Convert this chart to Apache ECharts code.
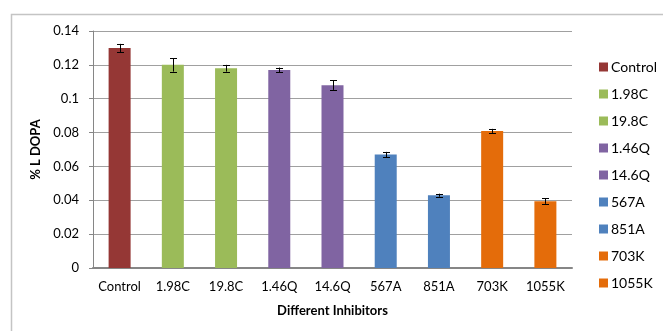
<!DOCTYPE html>
<html><head><meta charset="utf-8">
<script src="https://cdn.jsdelivr.net/npm/echarts@6/dist/echarts.min.js"></script>
<style>html,body{margin:0;padding:0;background:#fff}#c{width:663px;height:331px}</style>
</head><body><div id="c"></div>
<script>
const categories = ['Control','1.98C','19.8C','1.46Q','14.6Q','567A','851A','703K','1055K'];
const values = [0.130, 0.120, 0.118, 0.117, 0.108, 0.067, 0.043, 0.081, 0.0395];
const errors = [0.0024, 0.004, 0.002, 0.0014, 0.0028, 0.0016, 0.0009, 0.0012, 0.0016];
const colors = ['#953735','#9BBB59','#9BBB59','#8064A2','#8064A2','#4F81BD','#4F81BD','#E46C0A','#E46C0A'];
const yTicks = {min:0, max:0.14, interval:0.02};

const font = "Lato, 'Liberation Sans', sans-serif";
const series = categories.map((c,i)=>({
  name:c, type:'bar', stack:'s', barWidth:22,
  itemStyle:{color:colors[i]},
  data: categories.map((_,j)=> j===i ? values[i] : null)
}));
series.push({
  type:'custom', name:'err', silent:true, z:10,
  data: values.map((v,i)=>[i, v-errors[i], v+errors[i]]),
  renderItem:(params, api)=>{
    const lo = api.coord([api.value(0), api.value(1)]);
    const hi = api.coord([api.value(0), api.value(2)]);
    const x = Math.round(lo[0])+0.5, w=3.5;
    const st = {stroke:'#000', lineWidth:1};
    return {type:'group', children:[
      {type:'line', shape:{x1:x,y1:lo[1],x2:x,y2:hi[1]}, style:st},
      {type:'line', shape:{x1:x-w,y1:Math.round(lo[1])+0.5,x2:x+w,y2:Math.round(lo[1])+0.5}, style:st},
      {type:'line', shape:{x1:x-w,y1:Math.round(hi[1])+0.5,x2:x+w,y2:Math.round(hi[1])+0.5}, style:st}
    ]};
  }
});
const chart = echarts.init(document.getElementById('c'));
chart.setOption({
  animation:false,
  textStyle:{fontFamily:font},
  graphic:[{type:'rect', shape:{x:11.5,y:14.5,width:700,height:400}, style:{fill:'none',stroke:'#C4C4C4',lineWidth:1.5}, z:-1}],
  grid:{left:93, right:91, top:31, bottom:63},
  legend:{
    data:categories, orient:'vertical', left:594, top:55,
    icon:'rect', itemWidth:9, itemHeight:9, itemGap:13,
    textStyle:{fontSize:14, color:'#000', fontFamily:font, padding:[0,0,0,-2]}
  },
  xAxis:{
    type:'category', data:categories,
    name:'Different Inhibitors', nameLocation:'middle', nameGap:36,
    nameTextStyle:{fontWeight:'bold', fontSize:13, color:'#000'},
    axisLine:{lineStyle:{color:'#868686', width:2}},
    axisTick:{show:false},
    axisLabel:{color:'#000', fontSize:13, margin:12, interval:0}
  },
  yAxis:{
    type:'value', min:yTicks.min, max:yTicks.max, interval:yTicks.interval,
    name:'% L DOPA', nameLocation:'middle', nameGap:44,
    nameTextStyle:{fontWeight:'bold', fontSize:13, color:'#000'},
    axisLine:{show:true, lineStyle:{color:'#868686', width:1}},
    axisTick:{show:true, length:4, lineStyle:{color:'#868686'}},
    splitLine:{lineStyle:{color:'#A0A0A0', width:1}},
    axisLabel:{color:'#000', fontSize:13, margin:14}
  },
  series:series
});
</script></body></html>
